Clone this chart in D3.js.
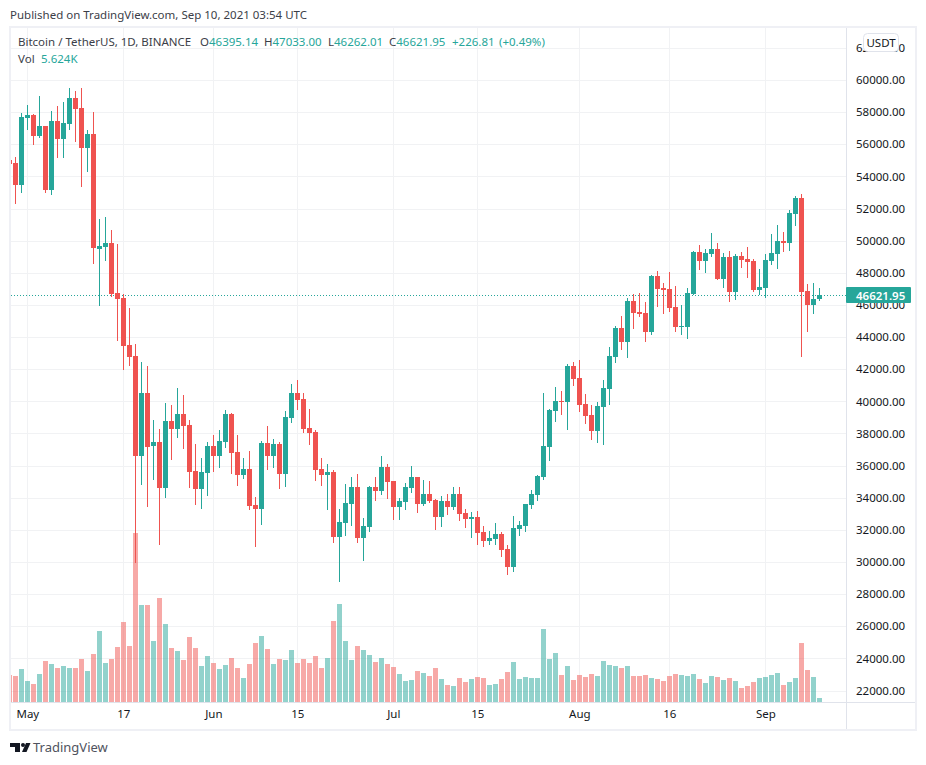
<!DOCTYPE html>
<html>
<head>
<meta charset="utf-8">
<script src="https://cdn.jsdelivr.net/npm/d3@7"></script>
<style>
  html, body { margin: 0; padding: 0; background: #fff; }
  svg { display: block; }
  text { font-family: "Noto Sans", sans-serif; font-size: 11.5px; fill: #131722; }
</style>
</head>
<body>
<div id="chart"></div>
<script>
const width = 926, height = 765;

// Daily BTC/USDT candles, Apr 28 to Sep 10 2021
const opens = [55020,54830,53460,57630,57820,56510,57140,53150,57450,56330,57260,58880,58260,55770,56640,49480,49610,49850,46740,46430,
  43500,42820,36600,40520,37220,37470,34610,38780,38280,39210,38530,35660,34540,35540,37220,36600,37470,39210,36840,35410,
  35790,33550,33300,37410,36600,37340,35470,38960,40520,40140,38340,38090,35790,35410,35600,31550,32430,33610,34670,31490,
  32180,34670,34420,35910,35040,33420,33730,34610,35290,33610,34230,33860,32800,33790,33420,34230,33050,32680,32800,31870,
  31310,31430,31740,30810,29690,32050,32240,33550,34170,35290,37160,39400,40020,39960,42200,41450,39830,39150,38150,39650,
  40770,42760,44560,43690,46240,45560,45500,44320,47800,47050,46990,45870,44630,44630,46680,49290,48740,49170,49480,47610,
  48980,46810,49050,48860,48740,46930,47050,48740,49170,49980,49850,51660,52650,46870,46000,46395.14];
const highs = [55150,55210,57950,58440,57880,59000,57140,58070,58380,58630,59500,59320,59500,56890,58010,51350,51470,50660,49790,46680,
  45810,43570,42450,42200,38840,38280,39900,39770,40830,40390,38840,37340,36470,37470,37900,38220,39460,39270,37900,36470,
  36910,34040,37530,38460,37650,37470,39400,41080,41330,40520,39520,38220,36470,36100,35720,33300,34850,35290,35470,32740,
  34730,35290,36600,36100,35040,33980,34920,35970,35290,35100,35040,33920,34110,34230,34670,34670,33300,33110,33170,32240,
  31930,32430,31870,31060,32860,32550,33610,34480,35410,40520,39520,40890,40640,42320,42450,42570,40460,39770,39960,41330,
  43380,44690,45310,46430,46680,46740,46180,47860,48110,47360,48050,47180,46000,47050,49360,49730,49480,50480,49850,49230,
  49360,49170,49290,49610,48860,48240,49170,50420,50970,50540,51910,52780,52900,47300,47360,47033];
const lows = [54650,52280,52970,56890,55950,56390,52970,52840,55150,55150,56890,56140,53340,54270,48550,45930,48740,46490,43750,41950,
  42200,29940,34790,33420,35100,31060,33980,36350,37720,37030,34610,33550,33300,34110,35600,35850,37090,35470,34730,35160,
  33230,30930,32300,35720,35850,34540,34670,38650,39460,38030,37280,35040,34730,33230,31180,28750,31620,32240,31180,30060,
  31870,33790,34170,33920,32610,32610,33230,34290,33050,33480,33670,31990,32180,32920,33230,32550,32120,31490,31060,30930,
  31060,31060,30310,29190,29380,31620,31870,33300,33790,35100,36290,38710,39150,38220,40950,39340,38590,37590,37410,37280,
  39770,42380,43190,42700,44500,45250,43690,44130,45870,45440,45560,44320,44130,43880,46620,48170,47990,48980,47550,47050,
  46180,46310,48300,47680,46810,46620,46430,48490,48240,49290,49360,50910,42760,44320,45440,46262.01];
const closes = [54770,53460,57700,57820,56510,57140,53150,57450,56330,57320,58880,58190,55770,56640,49540,49670,49860,46680,46370,43440,
  42760,36600,40520,37160,37470,34610,38780,38280,39210,38460,35600,34540,35600,37220,36600,37530,39210,36780,35410,35790,
  33480,33300,37410,36600,37340,35470,39030,40520,40080,38280,38030,35720,35410,35600,31550,32490,33670,34670,31490,32240,
  34670,34420,35910,34980,33420,33790,34670,35290,33610,34230,33790,32800,33790,33420,34230,32990,32680,32800,31800,31310,
  31490,31740,30750,29690,32120,32300,33610,34230,35350,37220,39460,40020,39960,42200,41390,39770,39090,38150,39710,40830,
  42820,44560,43690,46240,45500,45440,44320,47800,46990,46930,45810,44630,44690,46740,49290,48740,49230,49480,47610,48980,
  46810,49050,48800,48670,46930,47120,48800,49230,49980,49850,51720,52650,46810,46000,46370,46621.95];
// Volume in thousands of BTC
const volumes = [43,42,53,34,29,45,66,61,54,58,54,54,69,50,77,114,62,69,88,128,
  90,270,155,155,98,166,125,86,82,67,104,86,58,74,62,53,59,70,54,38,
  61,94,106,85,61,69,67,83,62,69,62,74,54,70,130,157,98,67,90,83,
  75,64,70,61,56,45,34,35,50,46,42,54,37,27,26,38,32,37,40,38,
  27,29,37,48,64,37,40,38,38,117,69,78,43,58,35,43,40,45,42,66,
  59,58,54,58,42,42,43,38,37,34,42,45,43,42,45,37,30,42,40,35,
  38,34,22,26,32,38,40,43,46,27,32,38,94,51,40,5.624];

const firstDay = new Date(Date.UTC(2021, 3, 28));
const lastDay = new Date(Date.UTC(2021, 8, 10));
const priceTicks = d3.range(22000, 62001, 2000);
const dateTicks = [[2021,4,1,'May'],[2021,4,17,'17'],[2021,5,1,'Jun'],[2021,5,15,'15'],[2021,6,1,'Jul'],
  [2021,6,15,'15'],[2021,7,1,'Aug'],[2021,7,16,'16'],[2021,8,1,'Sep']];
const lastPrice = 46621.95;
const legendLabels = ['O','H','L','C'];
const legendValues = ['46395.14','47033.00','46262.01','46621.95'];
const legendLabelX = [200, 264, 328, 389];

const green = '#26a69a', red = '#ef5350', border = '#e0e3eb', grid = '#f1f2f4', frame = '#eff0f5';
const plotLeft = 11, plotRight = 846, plotTop = 28, plotBottom = 702;

const svg = d3.select('#chart').append('svg')
    .attr('width', width)
    .attr('height', height);

const x = d3.scaleUtc().domain([firstDay, lastDay]).range([9.33, 819.33]);
const y = d3.scaleLinear().domain([22000, 60000]).range([690.5, 80]);
const yVol = d3.scaleLinear().domain([0, 300]).range([plotBottom, plotBottom - 187.5]);

const tickDates = dateTicks.map(d => new Date(Date.UTC(d[0], d[1], d[2])));
const days = opens.map((d, i) => d3.utcDay.offset(firstDay, i));

// Outer frame
svg.append('rect')
    .attr('x', 10).attr('y', 27)
    .attr('width', 906).attr('height', 703)
    .attr('fill', '#fff')
    .attr('stroke', frame)
    .attr('stroke-width', 2);

svg.append('clipPath').attr('id', 'plot')
  .append('rect')
    .attr('x', plotLeft).attr('y', plotTop)
    .attr('width', plotRight - plotLeft).attr('height', plotBottom - plotTop);

// Grid lines
const gridG = svg.append('g').attr('clip-path', 'url(#plot)').attr('shape-rendering', 'crispEdges');
gridG.selectAll('line.h')
    .data(priceTicks)
    .enter().append('line')
    .attr('class', 'h')
    .attr('x1', plotLeft).attr('x2', plotRight)
    .attr('y1', d => Math.round(y(d)) + 0.5).attr('y2', d => Math.round(y(d)) + 0.5)
    .attr('stroke', grid);
gridG.selectAll('line.v')
    .data(tickDates)
    .enter().append('line')
    .attr('class', 'v')
    .attr('x1', d => Math.floor(x(d)) + 0.5).attr('x2', d => Math.floor(x(d)) + 0.5)
    .attr('y1', plotTop).attr('y2', plotBottom)
    .attr('stroke', grid);

const plot = svg.append('g').attr('clip-path', 'url(#plot)').attr('shape-rendering', 'crispEdges');
const colorOf = i => closes[i] >= opens[i] ? green : red;

// Volume bars
plot.selectAll('rect.vol')
    .data(days)
    .enter().append('rect')
    .attr('class', 'vol')
    .attr('x', d => Math.floor(x(d)) - 2)
    .attr('width', 5)
    .attr('y', (d, i) => Math.round(yVol(volumes[i])))
    .attr('height', (d, i) => plotBottom - Math.round(yVol(volumes[i])))
    .attr('fill', (d, i) => colorOf(i))
    .attr('fill-opacity', 0.5);

// Last price line
plot.append('line')
    .attr('x1', plotLeft).attr('x2', plotRight)
    .attr('y1', Math.round(y(lastPrice)) + 0.5).attr('y2', Math.round(y(lastPrice)) + 0.5)
    .attr('stroke', green)
    .attr('stroke-dasharray', '1 2');

// Wicks
plot.selectAll('line.wick')
    .data(days)
    .enter().append('line')
    .attr('class', 'wick')
    .attr('x1', d => Math.floor(x(d)) + 0.5).attr('x2', d => Math.floor(x(d)) + 0.5)
    .attr('y1', (d, i) => y(highs[i])).attr('y2', (d, i) => y(lows[i]))
    .attr('stroke', (d, i) => colorOf(i));

// Bodies
plot.selectAll('rect.body')
    .data(days)
    .enter().append('rect')
    .attr('class', 'body')
    .attr('x', d => Math.floor(x(d)) - 2)
    .attr('width', 5)
    .attr('y', (d, i) => Math.round(y(Math.max(opens[i], closes[i]))))
    .attr('height', (d, i) => Math.max(1, Math.round(y(Math.min(opens[i], closes[i]))) - Math.round(y(Math.max(opens[i], closes[i])))))
    .attr('fill', (d, i) => colorOf(i));

// Pane borders
svg.append('line').attr('x1', plotRight + 0.5).attr('x2', plotRight + 0.5)
    .attr('y1', plotTop).attr('y2', 729).attr('stroke', border);
svg.append('line').attr('x1', plotLeft).attr('x2', 915)
    .attr('y1', plotBottom + 0.5).attr('y2', plotBottom + 0.5).attr('stroke', border);

// Price axis
const yAxis = svg.append('g')
    .attr('transform', `translate(${plotRight},0)`)
    .call(d3.axisRight(y).tickValues(priceTicks).tickFormat(d3.format('.2f')).tickSize(0).tickPadding(10));
yAxis.select('.domain').remove();
yAxis.selectAll('text').style('font-family', '"Noto Sans", sans-serif').style('font-size', '11.5px').attr('fill', '#131722');

// Date axis
const xAxis = svg.append('g')
    .attr('transform', `translate(0,${plotBottom})`)
    .call(d3.axisBottom(x).tickValues(tickDates).tickFormat((d, i) => dateTicks[i][3]).tickSize(0).tickPadding(8));
xAxis.select('.domain').remove();
xAxis.selectAll('text')
    .style('font-family', '"Noto Sans", sans-serif')
    .style('font-size', '11.5px')
    .attr('fill', (d, i) => dateTicks[i][3].length > 2 ? '#131722' : '#50535e');

// Last price label
svg.append('rect')
    .attr('x', plotRight).attr('y', Math.round(y(lastPrice)) - 8)
    .attr('width', 65).attr('height', 16)
    .attr('rx', 1)
    .attr('fill', green);
svg.append('text')
    .attr('x', 856).attr('y', Math.round(y(lastPrice)) + 4.5)
    .style('fill', '#fff')
    .style('font-weight', 600)
    .text(d3.format('.2f')(lastPrice));

// Currency badge
svg.append('rect')
    .attr('x', 863.5).attr('y', 33.5)
    .attr('width', 35).attr('height', 18)
    .attr('rx', 4)
    .attr('fill', '#fff')
    .attr('stroke', border);
svg.append('text')
    .attr('x', 881).attr('y', 47)
    .attr('text-anchor', 'middle')
    .text('USDT');

// Header and legend
svg.append('text').attr('x', 10).attr('y', 18.5).style('fill', '#3b3e48')
    .text('Published on TradingView.com, Sep 10, 2021 03:54 UTC');
svg.append('text').attr('x', 18).attr('y', 46).style('fill', '#3b3e48')
    .text('Bitcoin / TetherUS, 1D, BINANCE');
legendLabels.forEach((d, i) => {
  const t = svg.append('text').attr('x', legendLabelX[i]).attr('y', 46);
  t.append('tspan').style('fill', '#3b3e48').text(d);
  t.append('tspan').style('fill', green).text(legendValues[i]);
});
svg.append('text').attr('x', 452).attr('y', 46).style('fill', green).text('+226.81');
svg.append('text').attr('x', 499).attr('y', 46).style('fill', green).text('(+0.49%)');
svg.append('text').attr('x', 18).attr('y', 62.5).style('fill', '#3b3e48').text('Vol');
svg.append('text').attr('x', 41).attr('y', 62.5).style('fill', green).text('5.624K');

// Logo
const logo = svg.append('g').attr('fill', '#131722');
logo.append('path').attr('d', 'M10 743H20V752H15V747H10Z');
logo.append('circle').attr('cx', 23).attr('cy', 745).attr('r', 2);
logo.append('path').attr('d', 'M22 752L26 743H30.5L26.5 752Z');
svg.append('text').attr('x', 33).attr('y', 752).style('font-size', '13px').style('fill', '#50535e').text('TradingView');
</script>
</body>
</html>
